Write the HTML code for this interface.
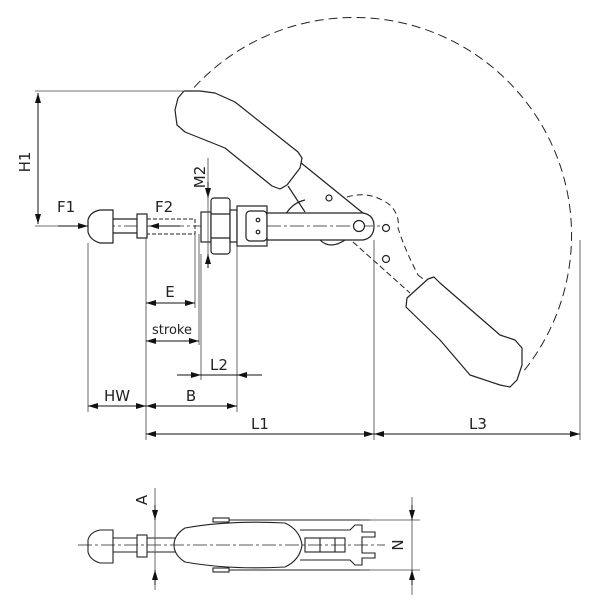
<!DOCTYPE html>
<html><head><meta charset="utf-8"><style>
html,body{margin:0;padding:0;background:#fff}
svg{display:block}
text{font-family:"DejaVu Sans","Liberation Sans",sans-serif;font-size:15px;fill:#222}
.h{fill:#ffffff;stroke:#222;stroke-width:1.2;stroke-linejoin:round}
</style></head><body>
<svg width="600" height="600" viewBox="0 0 600 600" xmlns="http://www.w3.org/2000/svg">
<defs>
<marker id="a" viewBox="0 0 10 6" refX="10" refY="3" markerWidth="10" markerHeight="6" orient="auto-start-reverse" markerUnits="userSpaceOnUse"><path d="M0,0 L10,3 L0,6z" fill="#111"/></marker>
</defs>
<g fill="none" stroke="#222" stroke-width="1.2">
<path d="M185,98 A216,216 0 1,1 523,372" fill="none" stroke-dasharray="9,5" stroke-width="1"/>
<path d="M347,197 Q370,190 390,205 Q400,215 398,228 Q405,250 418,275" fill="none" stroke-dasharray="6,4" stroke-width="1"/>
<path d="M418,275 L505,340 Q515,345 520,350" fill="none" stroke-dasharray="6,4" stroke-width="1"/>
<path d="M353,242 L410,293" fill="none" stroke-dasharray="6,3" stroke-width="1"/>
<path d="M78,226 L380,226" stroke-dasharray="14,3,3,3" stroke-width="0.8"/>
<path d="M282,233 A30,30 0 0,1 305,200 M320,240 Q330,250 345,240" fill="none"/>
<path d="M300,162 L374,222 M288,186 L305,212" fill="none"/>
<path d="M100,210 L113,210 L113,243 L100,243 Q90,240 88,232 L88,220 Q90,212 100,210z" fill="#fff"/>
<path d="M113,219 L137,219 M113,233 L137,233"/>
<rect x="137" y="214" width="10" height="24" fill="#fff"/>
<rect x="147" y="219" width="48" height="15" stroke-dasharray="4,2" stroke-width="1" fill="none"/>
<rect x="201" y="212" width="10" height="30" fill="#fff"/>
<rect x="211" y="198" width="19" height="56" rx="3" fill="#fff"/>
<path d="M211,214 L230,214 M211,238 L230,238"/>
<rect x="230" y="210" width="7" height="32" fill="#fff"/>
<rect x="237" y="206" width="30" height="40" fill="#fff"/>
<rect x="246" y="211" width="21" height="30" rx="4" fill="#fff"/>
<circle cx="258" cy="220" r="1.8" fill="none"/><circle cx="258" cy="232" r="1.8" fill="none"/>
<path d="M267,213 L363,213 Q374,215 374,226 Q374,238 363,240 L267,240z" fill="#fff"/>
<path d="M267,226 L374,226" stroke-dasharray="14,3,3,3" stroke-width="0.8"/>
<circle cx="359" cy="226" r="5.5" fill="#fff"/>
<circle cx="386" cy="228" r="3.5" fill="none"/><circle cx="386" cy="259" r="3.5" fill="none"/>
<circle cx="329" cy="198" r="3" fill="none"/>
</g>
<polygon class="h" points="184,91 200,91 215,93 235,102 298,152 302,158 300,168 287,185 280,189 272,186 225,148 200,138 185,132 177,125 175,110 178,98"/>
<polygon class="h" points="407,298 428,279 434,277 440,283 500,335 515,340 522,348 522,365 517,380 510,387 500,385 470,375 440,340 406,307"/>
<g fill="none" stroke="#444" stroke-width="0.8">
<path d="M35,91 L183,91 M35,226 L78,226"/>
<path d="M88,243 L88,412 M146,238 L146,440 M195,234 L195,308 M199,234 L199,345 M201,254 L201,380 M237,246 L237,412 M374,240 L374,440 M580,240 L580,440"/>
<path d="M208,158 L208,262"/>
</g>
<g stroke="#111" stroke-width="1" fill="none">
<path d="M38,93 L38,224" marker-start="url(#a)" marker-end="url(#a)"/>
<path d="M58,226 L88,226" marker-end="url(#a)"/>
<path d="M180,226 L149,226" marker-end="url(#a)"/>
<path d="M208,182 L208,198" marker-end="url(#a)"/>
<path d="M208,268 L208,254" marker-end="url(#a)"/>
<path d="M146,303 L195,303" marker-start="url(#a)" marker-end="url(#a)"/>
<path d="M146,341 L199,341" marker-start="url(#a)" marker-end="url(#a)"/>
<path d="M177,375 L201,375" marker-end="url(#a)"/>
<path d="M262,375 L237,375" marker-end="url(#a)"/>
<path d="M201,375 L237,375"/>
<path d="M88,406 L146,406" marker-start="url(#a)" marker-end="url(#a)"/>
<path d="M146,406 L237,406" marker-start="url(#a)" marker-end="url(#a)"/>
<path d="M146,434 L374,434" marker-start="url(#a)" marker-end="url(#a)"/>
<path d="M374,434 L580,434" marker-start="url(#a)" marker-end="url(#a)"/>
</g>
<text x="57" y="212">F1</text>
<text x="155" y="212">F2</text>
<text x="30" y="162" transform="rotate(-90 30 162)" text-anchor="middle">H1</text>
<text x="205" y="177" transform="rotate(-90 205 177)" text-anchor="middle">M2</text>
<text x="170" y="297" text-anchor="middle">E</text>
<text x="172" y="334" text-anchor="middle" style="font-size:13px">stroke</text>
<text x="219" y="370" text-anchor="middle">L2</text>
<text x="117" y="401" text-anchor="middle">HW</text>
<text x="191" y="401" text-anchor="middle">B</text>
<text x="260" y="429" text-anchor="middle">L1</text>
<text x="478" y="429" text-anchor="middle">L3</text>
<g fill="none" stroke="#222" stroke-width="1.1">
<path d="M213,520 L370,520 M213,570 L370,570"/>
<rect x="213" y="518" width="16" height="4" fill="#fff"/><rect x="213" y="568" width="16" height="4" fill="#fff"/>
<path d="M300,530 L350,530 L355,525 L362,525 L362,532 L375,532 L375,537 L362,537 L362,553 L375,553 L375,558 L362,558 L362,565 L355,565 L350,560 L300,560" fill="#fff"/>
<rect x="305" y="538" width="40" height="14" fill="#fff"/>
<path d="M320,538 L320,552 M335,538 L335,552"/>
<path d="M100,530 L113,530 L113,563 L100,563 Q90,560 88,552 L88,540 Q90,532 100,530z" fill="#fff"/>
<path d="M113,538 L137,538 M113,552 L137,552"/>
<rect x="137" y="535" width="10" height="22" fill="#fff"/>
<path d="M147,538 L178,538 M147,552 L178,552"/>
<path d="M185,528 Q230,520 285,523 Q300,530 302,545 Q300,560 285,567 Q230,570 185,562 Q174,555 174,545 Q174,535 185,528z" fill="#fff"/>
<path d="M78,545 L385,545" stroke-dasharray="14,3,3,3" stroke-width="0.8"/>
</g>
<g stroke="#444" stroke-width="0.8" fill="none">
<path d="M155,488 L155,590 M360,520 L420,520 M360,570 L420,570 M412,497 L412,595"/>
</g>
<g stroke="#111" stroke-width="1" fill="none">
<path d="M155,505 L155,520" marker-end="url(#a)"/>
<path d="M155,585 L155,570" marker-end="url(#a)"/>
<path d="M412,505 L412,520" marker-end="url(#a)"/>
<path d="M412,585 L412,570" marker-end="url(#a)"/>
</g>
<text x="147" y="500" transform="rotate(-90 147 500)" text-anchor="middle">A</text>
<text x="403" y="545" transform="rotate(-90 403 545)" text-anchor="middle">N</text>
</svg>
</body></html>
